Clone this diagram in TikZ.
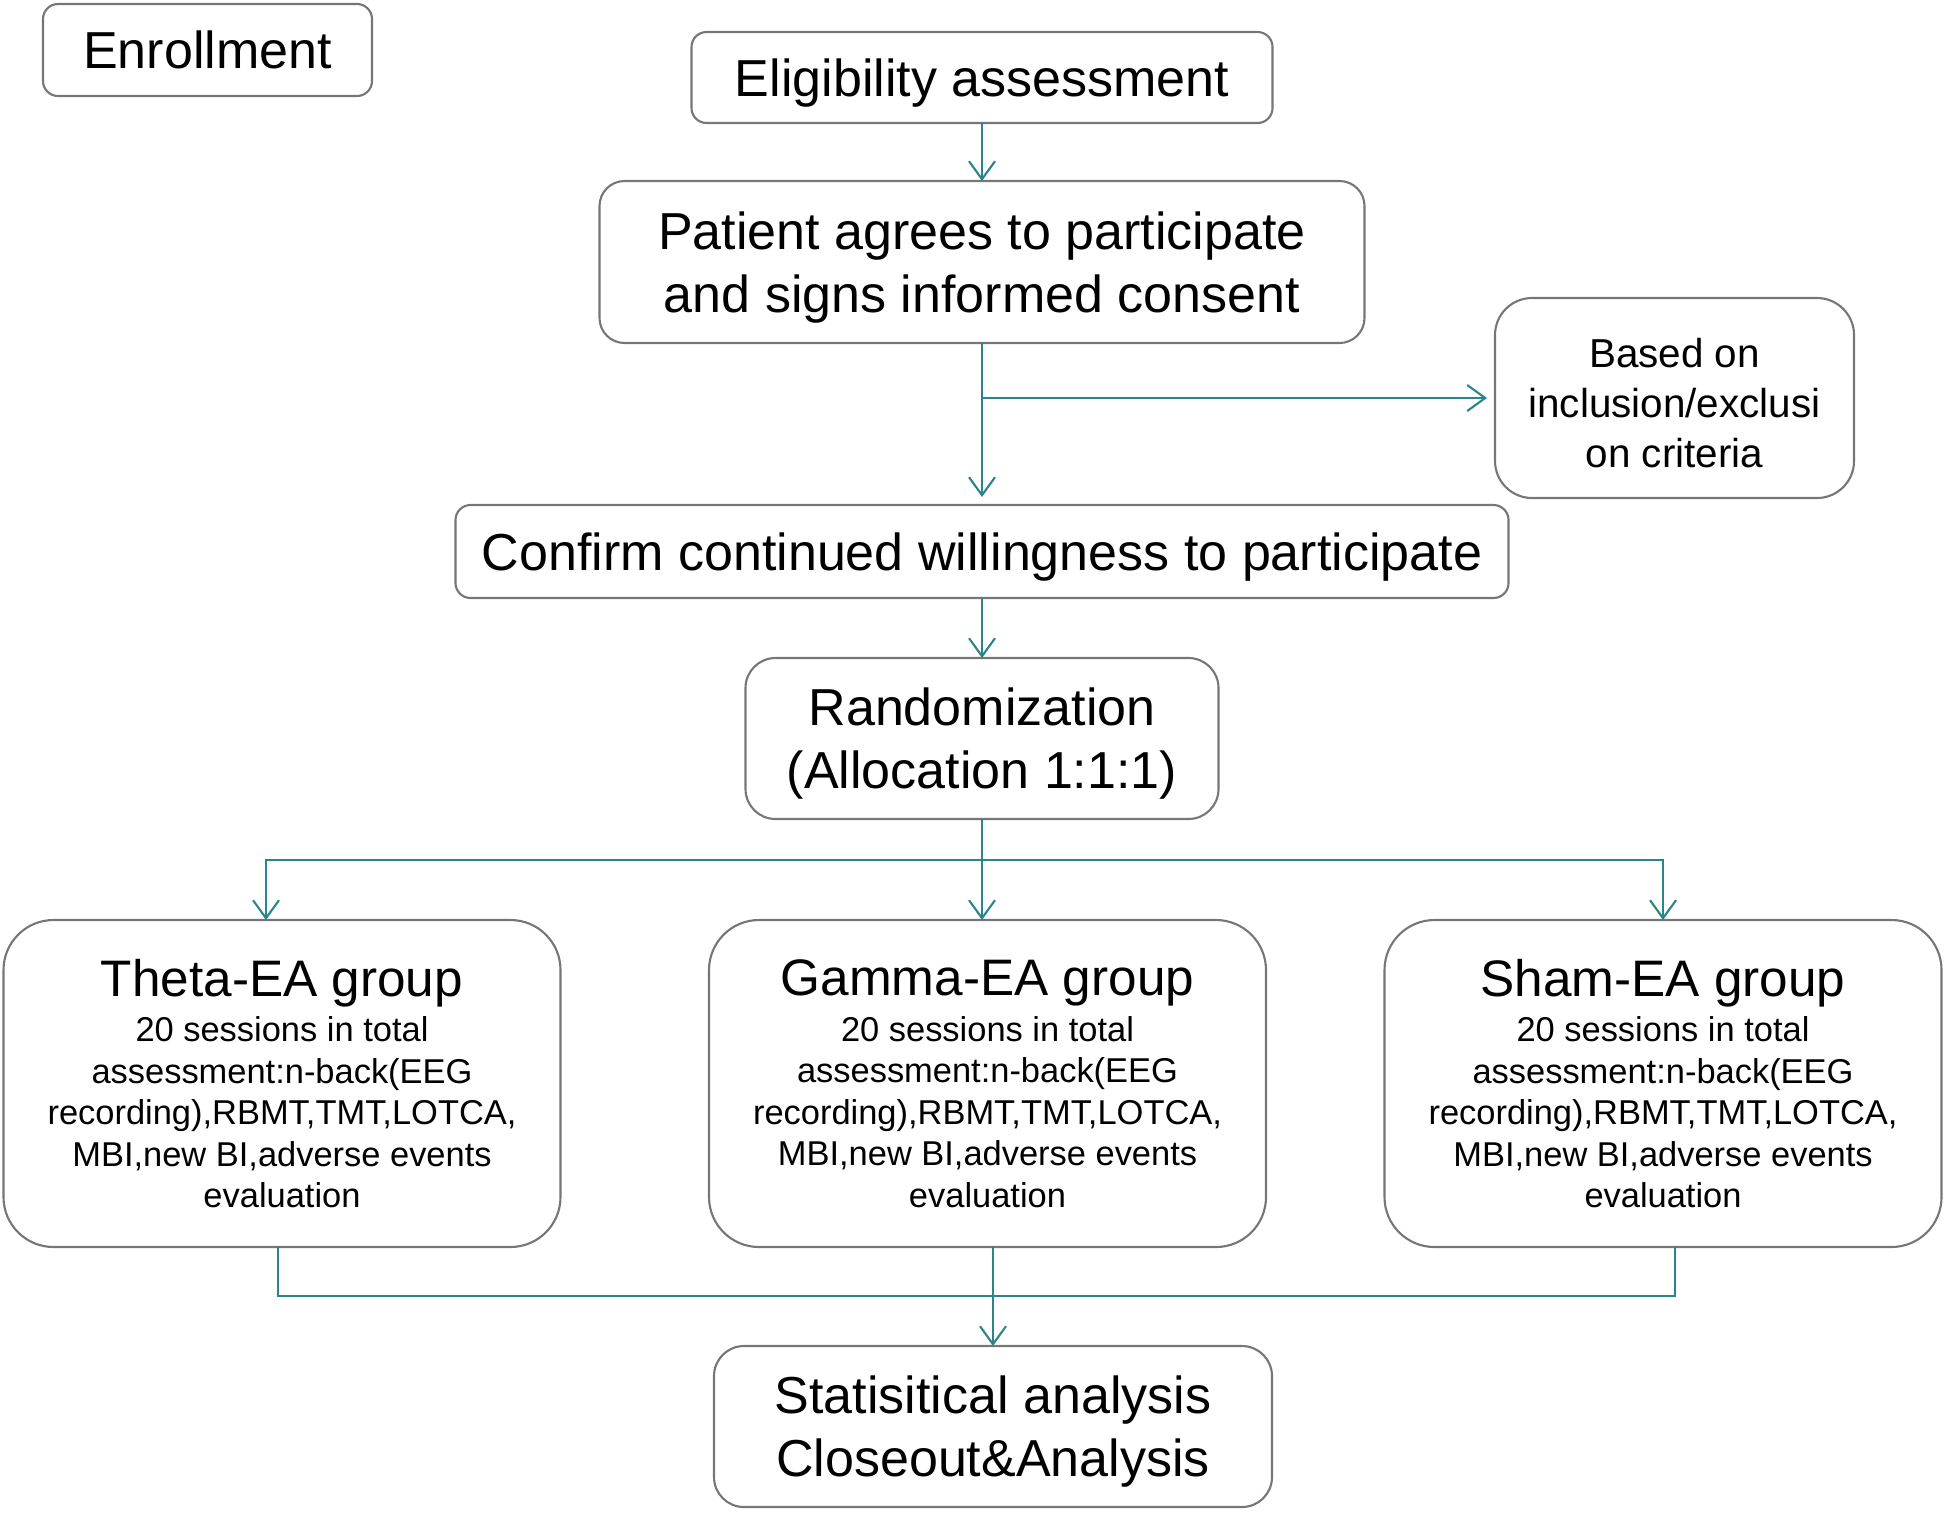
\documentclass[tikz,border=0pt]{standalone}
\usepackage{fontspec}
\setmainfont{Liberation Sans}
\usetikzlibrary{arrows.meta, positioning, calc}

\definecolor{flowteal}{RGB}{42,132,138}
\definecolor{boxgrey}{RGB}{118,118,118}
\newcommand{\mainsize}{\fontsize{14.8}{17.9}\selectfont}
\newcommand{\notesize}{\fontsize{11.5}{14.2}\selectfont}
\newcommand{\grpsize}{\fontsize{9.8}{11.8}\selectfont}
\newcommand{\grptitle}{\fontsize{14.6}{17.5}\selectfont}

\begin{document}
\begin{tikzpicture}[
    box/.style={rectangle, draw=boxgrey, line width=0.6pt, outer sep=0pt, rounded corners=0.2cm, align=center, font=\mainsize, inner sep=0pt},
    group/.style={box, rounded corners=0.5cm, minimum width=5.57cm, minimum height=3.27cm, font=\grpsize},
    arrow/.style={-{Straight Barb[length=0.18cm, width=0.26cm]}, line width=0.6pt, draw=flowteal},
    line/.style={line width=0.6pt, draw=flowteal}
  ]
  \useasboundingbox (0,0) rectangle (19.46,-15.12);

  \node[box, minimum width=3.29cm, minimum height=0.92cm, rounded corners=0.15cm] (enroll) at (2.075,-0.50) {Enrollment};
  \node[box, minimum width=5.81cm, minimum height=0.91cm, rounded corners=0.15cm, text depth=0pt] (elig) at (9.82,-0.775) {Eligibility assessment};
  \node[box, minimum width=7.65cm, minimum height=1.62cm, rounded corners=0.25cm, text depth=0pt, below=0.58cm of elig] (consent) {Patient agrees to participate\\and signs informed consent};
  \node[box, minimum width=10.53cm, minimum height=0.93cm, rounded corners=0.15cm, text depth=0pt, below=1.62cm of consent] (confirm) {Confirm continued willingness to participate};
  \node[box, minimum width=4.73cm, minimum height=1.61cm, rounded corners=0.3cm, text depth=0pt, below=0.6cm of confirm] (random) {Randomization\\(Allocation 1:1:1)};
  \node[box, minimum width=3.59cm, minimum height=2.0cm, rounded corners=0.37cm, font=\notesize, text height=39.6pt, text depth=0pt] (criteria) at (16.745,-3.98) {Based on\\inclusion/exclusi\\on criteria};

  % the three arms
  \node[group, below=1.01cm of random, xshift=0.055cm] (gamma) {\grptitle Gamma-EA group\\[1.2pt] 20 sessions in total\\ assessment:n-back(EEG\\ recording),RBMT,TMT,LOTCA,\\ MBI,new BI,adverse events\\ evaluation};
  \node[group, left=1.485cm of gamma] (theta) {\grptitle Theta-EA group\\[1.2pt] 20 sessions in total\\ assessment:n-back(EEG\\ recording),RBMT,TMT,LOTCA,\\ MBI,new BI,adverse events\\ evaluation};
  \node[group, right=1.185cm of gamma] (sham) {\grptitle Sham-EA group\\[1.2pt] 20 sessions in total\\ assessment:n-back(EEG\\ recording),RBMT,TMT,LOTCA,\\ MBI,new BI,adverse events\\ evaluation};
  \node[box, minimum width=5.58cm, minimum height=1.61cm, rounded corners=0.3cm, text depth=0pt, below=0.99cm of gamma, xshift=0.055cm] (stats) {Statisitical analysis\\Closeout\&Analysis};

  \draw[arrow] (elig) -- (consent);
  \draw[arrow, shorten >=0.08cm] (consent) -- (confirm);
  \coordinate (split) at (consent.south |- criteria.west);
  \draw[arrow, shorten >=0.08cm] (split) -- (criteria);
  \draw[arrow] (confirm) -- (random);

  \draw[arrow] (random) -- (random |- gamma.north);
  \coordinate (fork) at ($(random.south)+(0,-0.41)$);
  \draw[arrow] (fork) -| ([xshift=-0.16cm]theta.north);
  \draw[arrow] (fork) -| (sham);

  \coordinate (join) at ($(stats.north)+(0,0.5)$);
  \draw[line] ([xshift=-0.04cm]theta.south) |- (join);
  \draw[line] ([xshift=0.12cm]sham.south) |- (join);
  \draw[arrow] (stats |- gamma.south) -- (stats);
\end{tikzpicture}
\end{document}
